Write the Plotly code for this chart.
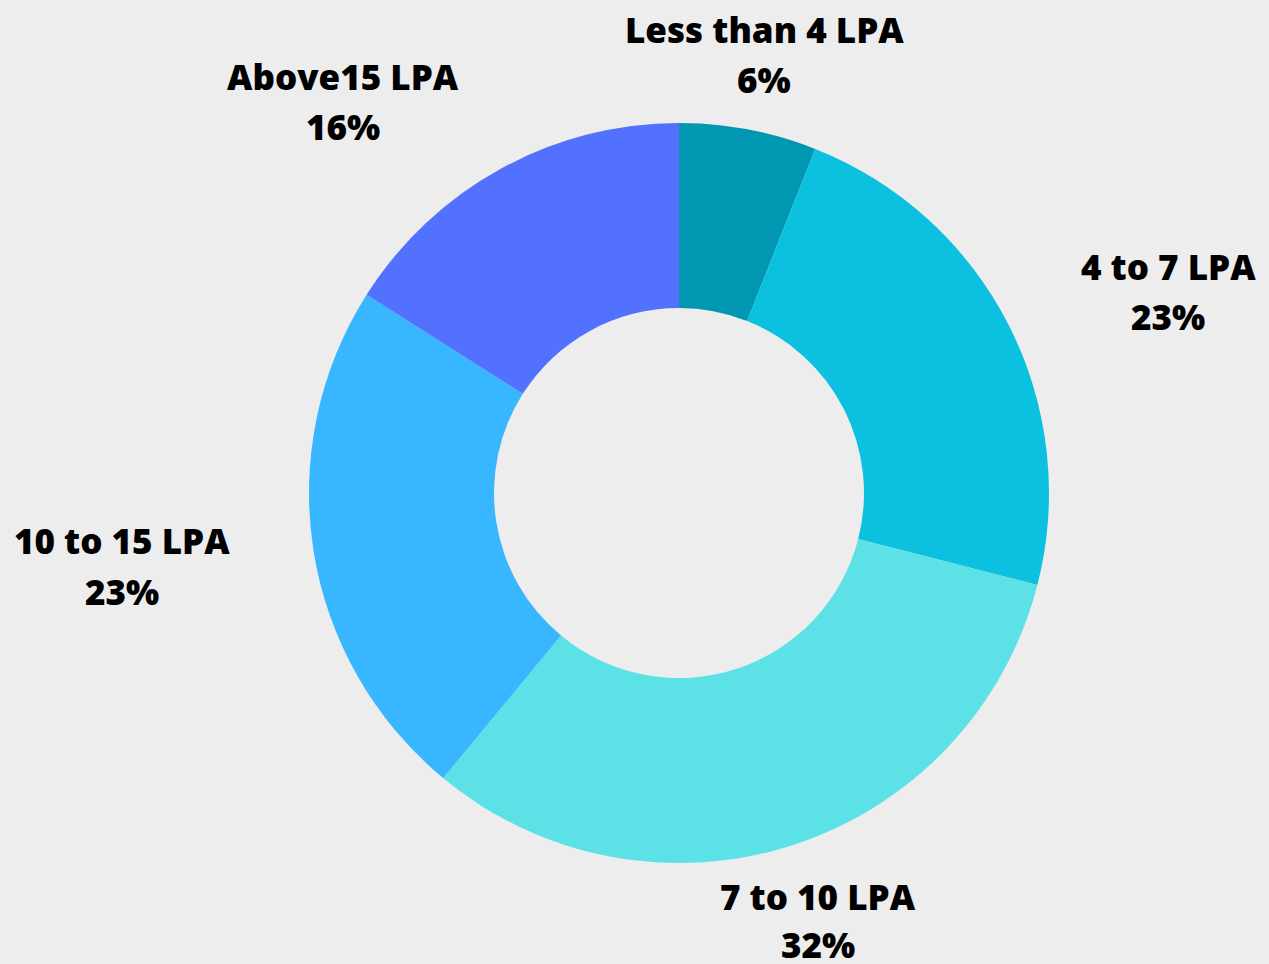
import plotly.graph_objects as go

categories = ["Less than 4 LPA", "4 to 7 LPA", "7 to 10 LPA", "10 to 15 LPA", "Above15 LPA"]
values = [6, 23, 32, 23, 16]
colors = ["#0097B2", "#0CC0DF", "#5CE1E6", "#38B6FF", "#5271FF"]

W, H = 1269, 964
BG = "#EDEDED"

fig = go.Figure(go.Pie(
    labels=categories,
    values=values,
    hole=0.5,
    sort=False,
    direction="clockwise",
    rotation=0,
    marker=dict(colors=colors, line=dict(width=0)),
    textinfo="none",
    hoverinfo="label+percent",
    domain=dict(x=[309 / W, 1049 / W], y=[1 - 863 / H, 1 - 123 / H]),
    showlegend=False,
))

# label centres in pixels: (x, y of first line, y of second line), from top-left
label_pos = [(764, 29, 79), (1168, 266, 317), (818, 896, 944), (122, 540, 591), (343, 77, 127)]
total = sum(values)
font = dict(family="Open Sans", size=35, color="#000000", weight=800)
for cat, val, (px, py1, py2) in zip(categories, values, label_pos):
    pct = round(100 * val / total)
    for txt, py in ((cat, py1), (f"{pct}%", py2)):
        fig.add_annotation(
            x=px / W, y=1 - py / H, xref="paper", yref="paper",
            text=txt, showarrow=False, xanchor="center", yanchor="middle",
            font=font,
        )

fig.update_layout(
    width=W, height=H,
    margin=dict(l=0, r=0, t=0, b=0),
    paper_bgcolor=BG, plot_bgcolor=BG,
)

fig.write_html(
    "out.html",
    config={"displayModeBar": False},
    post_script="document.body.style.margin='0';document.body.style.background='#EDEDED';",
)
